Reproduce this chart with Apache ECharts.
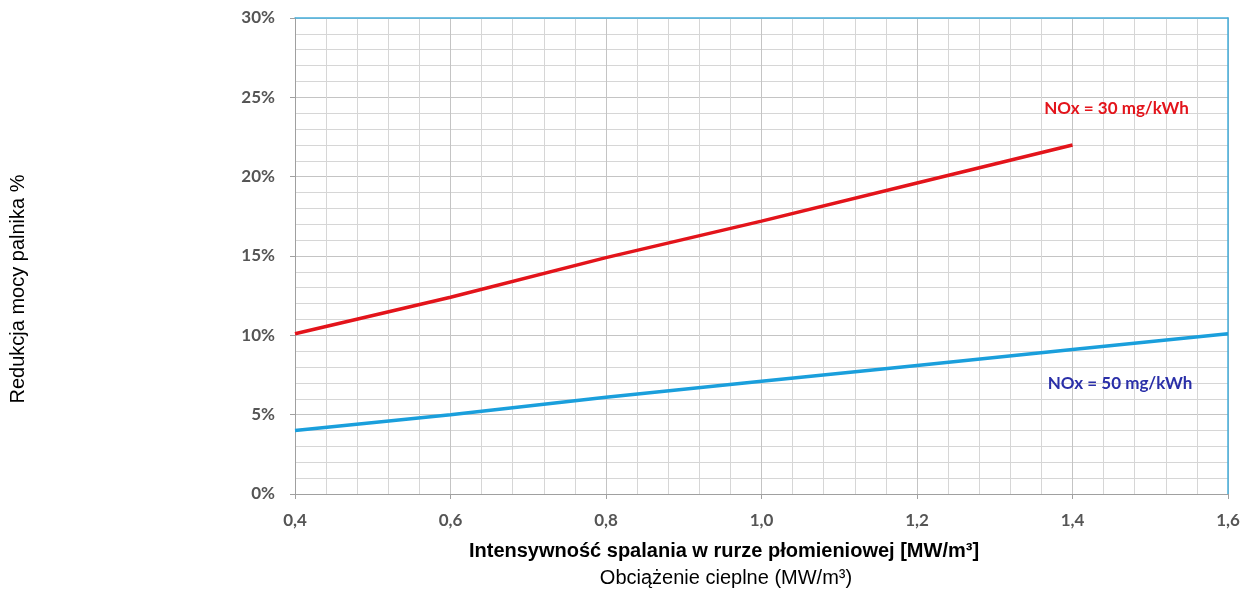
<!DOCTYPE html>
<html><head><meta charset="utf-8">
<script src="https://cdn.jsdelivr.net/npm/echarts@6/dist/echarts.min.js"></script>
<style>html,body{margin:0;padding:0;background:#fff}#c{width:1243px;height:593px}</style>
</head><body><div id="c"></div>
<script>
const xValues = [0.4, 0.6, 0.8, 1.0, 1.2, 1.4, 1.6];
const nox30 = [10.1, 12.4, 14.9, 17.2, 19.6, 22.0];
const nox50 = [4.0, 5.0, 6.1, 7.1, 8.1, 9.1, 10.1];
const seriesNames = ['NOx = 30 mg/kWh', 'NOx = 50 mg/kWh'];
const xAxisTitle = 'Intensywność spalania w rurze płomieniowej [MW/m³]';
const xAxisSubtitle = 'Obciążenie cieplne (MW/m³)';
const yAxisTitle = 'Redukcja mocy palnika %';

const pairs = vals => vals.map((v, i) => [xValues[i], v]);
const lastPoint = vals => [xValues[vals.length - 1], vals[vals.length - 1]];
const tickFont = { color: '#555555', fontFamily: 'Lato', fontWeight: 'bold', fontSize: 17 };
const chart = echarts.init(document.getElementById('c'));
chart.setOption({
  animation: false,
  grid: { left: 295, right: 15, top: 18, bottom: 99 },
  xAxis: [{
    type: 'value', min: 0.4, max: 1.6, interval: 0.2,
    axisLine: { onZero: false, lineStyle: { color: '#a0a0a0', width: 1 } },
    axisTick: { show: true, length: 5, lineStyle: { color: '#a0a0a0' } },
    axisLabel: Object.assign({ margin: 18, formatter: v => v.toFixed(1).replace('.', ',') }, tickFont),
    splitLine: { show: true, lineStyle: { color: '#c4c4c4', width: 1 } },
    minorTick: { show: false, splitNumber: 5 },
    minorSplitLine: { show: true, lineStyle: { color: '#d6d6d6', width: 1 } }
  }, {
    type: 'value', position: 'top', min: 0.4, max: 1.6,
    axisLine: { show: true, onZero: false, lineStyle: { color: '#45aedb', width: 1.5 } },
    axisTick: { show: false }, axisLabel: { show: false }, splitLine: { show: false }
  }],
  yAxis: [{
    type: 'value', min: 0, max: 30, interval: 5,
    axisLine: { show: true, onZero: false, lineStyle: { color: '#a0a0a0', width: 1 } },
    axisTick: { show: true, length: 5, lineStyle: { color: '#a0a0a0' } },
    axisLabel: Object.assign({ margin: 20, formatter: '{value}%' }, tickFont),
    splitLine: { show: true, lineStyle: { color: '#c4c4c4', width: 1 } },
    minorTick: { show: false, splitNumber: 5 },
    minorSplitLine: { show: true, lineStyle: { color: '#d6d6d6', width: 1 } }
  }, {
    type: 'value', position: 'right', min: 0, max: 30,
    axisLine: { show: true, onZero: false, lineStyle: { color: '#45aedb', width: 1.5 } },
    axisTick: { show: false }, axisLabel: { show: false }, splitLine: { show: false }
  }],
  graphic: [{
    type: 'text', x: 724, y: 551,
    style: { text: xAxisTitle, font: 'bold 20px "Liberation Sans"', fill: '#000', align: 'center', verticalAlign: 'middle' }
  }, {
    type: 'text', x: 726, y: 578,
    style: { text: xAxisSubtitle, font: '20px "Liberation Sans"', fill: '#000', align: 'center', verticalAlign: 'middle' }
  }, {
    type: 'text', x: 18, y: 289, rotation: Math.PI / 2,
    style: { text: yAxisTitle, font: '20px "Liberation Sans"', fill: '#000', align: 'center', verticalAlign: 'middle' }
  }],
  series: [{
    name: seriesNames[0], type: 'line', showSymbol: false, symbol: 'none',
    lineStyle: { color: '#e3141b', width: 3.5 },
    data: pairs(nox30),
    markPoint: {
      symbol: 'circle', symbolSize: 0, silent: true,
      label: { show: true, position: 'inside', offset: [44, -36], formatter: seriesNames[0],
        color: '#e3141b', fontFamily: 'Lato', fontSize: 17, fontWeight: 'bold' },
      data: [{ coord: lastPoint(nox30) }]
    }
  }, {
    name: seriesNames[1], type: 'line', showSymbol: false, symbol: 'none',
    lineStyle: { color: '#1a9fdc', width: 3.5 },
    data: pairs(nox50),
    markPoint: {
      symbol: 'circle', symbolSize: 0, silent: true,
      label: { show: true, position: 'inside', offset: [-108, 50], formatter: seriesNames[1],
        color: '#2a2fa8', fontFamily: 'Lato', fontSize: 17, fontWeight: 'bold' },
      data: [{ coord: lastPoint(nox50) }]
    }
  }]
});
</script></body></html>
